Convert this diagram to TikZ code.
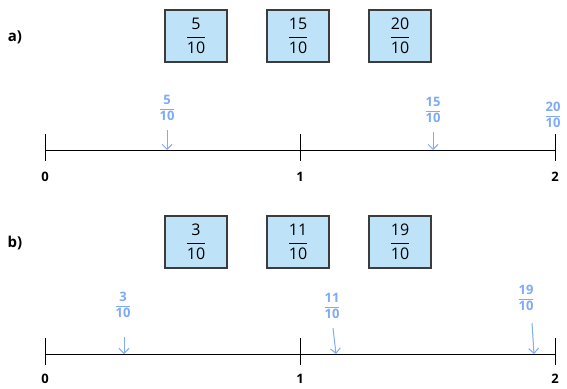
\documentclass[tikz,border=0pt]{standalone}
\usepackage{fontspec}
\setmainfont{Open Sans}
\usetikzlibrary{arrows.meta}
\definecolor{boxblue}{HTML}{BEE3F8}
\definecolor{boxline}{HTML}{3C3C3C}
\definecolor{penblue}{HTML}{7FAAF5}
\newcommand{\frc}[2]{$\displaystyle\frac{\mbox{#1}}{\mbox{#2}}$}
\begin{document}
\begin{tikzpicture}[x=1pt,y=-1pt,>={Straight Barb[length=5pt,width=10pt]},
    card/.style={draw=boxline, line width=1.2pt, fill=boxblue, minimum width=62pt, minimum height=52pt, inner sep=0pt, font=\fontsize{16}{19}\selectfont},
    pen/.style={text=penblue, inner sep=0pt, font=\bfseries\fontsize{13}{15}\selectfont},
    part/.style={font=\bfseries\fontsize{15}{18}\selectfont},
    num/.style={font=\bfseries\fontsize{13}{16}\selectfont}]
    \useasboundingbox (0,0) rectangle (567,388);
    % part a
    \node (la) [part] at (15,37) {a)};
    \node (a1) [card] at (196,36) {\frc{5}{10}};
    \node (a2) [card] at (298,36) {\frc{15}{10}};
    \node (a3) [card] at (400,36) {\frc{20}{10}};
    \coordinate (a0) at (45,150);
    \coordinate (aend) at (555,150);
    \draw[line width=1pt] (a0) -- (aend);
    \foreach \x/\t in {45/0,300/1,555/2} {
      \draw[line width=1pt] (\x,134) -- (\x,161);
      \node[num] (an\t) at (\x,177) {\t};
    }
    \node (pa1) [pen] at (167,108) {\frc{5}{10}};
    \node (pa2) [pen] at (433,110) {\frc{15}{10}};
    \node (pa3) [pen] at (553,115) {\frc{20}{10}};
    \coordinate (ta1) at (167,150);
    \coordinate (ta2) at (433,150);
    \draw[->, penblue, line width=1pt] (167,130) -- (ta1);
    \draw[->, penblue, line width=1pt] (433,132) -- (ta2);
    % part b
    \node (lb) [part] at (15,243) {b)};
    \node (b1) [card] at (196,242) {\frc{3}{10}};
    \node (b2) [card] at (298,242) {\frc{11}{10}};
    \node (b3) [card] at (400,242) {\frc{19}{10}};
    \coordinate (b0) at (45,354);
    \coordinate (bend) at (555,354);
    \draw[line width=1pt] (b0) -- (bend);
    \foreach \x/\t in {45/0,300/1,555/2} {
      \draw[line width=1pt] (\x,338) -- (\x,365);
      \node[num] (bn\t) at (\x,379) {\t};
    }
    \node (pb1) [pen] at (123,305) {\frc{3}{10}};
    \node (pb2) [pen] at (332,306) {\frc{11}{10}};
    \node (pb3) [pen] at (526,298) {\frc{19}{10}};
    \coordinate (tb1) at (124,354);
    \coordinate (tb2) at (336,354);
    \coordinate (tb3) at (534,354);
    \draw[->, penblue, line width=1pt] (124,337) -- (tb1);
    \draw[->, penblue, line width=1pt] (333,328) -- (tb2);
    \draw[->, penblue, line width=1pt] (532,323) -- (tb3);
\end{tikzpicture}
\end{document}
